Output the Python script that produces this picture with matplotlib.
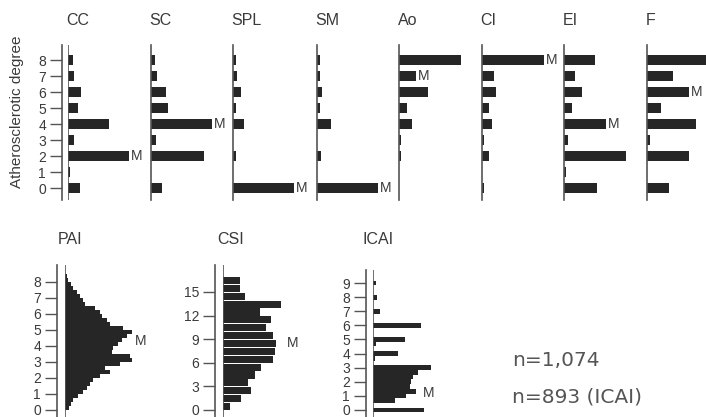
import matplotlib
matplotlib.use("Agg")
import matplotlib.pyplot as plt

plt.rcParams['font.family'] = ['Liberation Sans', 'DejaVu Sans']

W, H = 706, 417

# ---- top row: frequency of atherosclerotic degree (0..8) per region ----
degrees = [0, 1, 2, 3, 4, 5, 6, 7, 8]
regions = ['CC', 'SC', 'SPL', 'SM', 'Ao', 'CI', 'EI', 'F']
cc  = [12, 2, 61, 6, 41, 10, 13, 6, 5]
sc  = [11, 0, 53, 5, 61, 17, 15, 6, 4]
spl = [61, 0, 3, 0, 11, 3, 8, 4, 3]
sm  = [61, 0, 4, 0, 14, 3, 5, 3, 3]
ao  = [0, 0, 2, 2, 13, 8, 29, 17, 62]
ci  = [2, 0, 7, 2, 10, 7, 14, 12, 62]
ei  = [33, 2, 62, 4, 42, 8, 18, 11, 31]
f   = [22, 0, 42, 3, 49, 14, 42, 26, 65]
top_series = [cc, sc, spl, sm, ao, ci, ei, f]
top_medians = [2, 4, 0, 0, 7, 8, 4, 6]

# ---- bottom row: index distributions ----
pai_bins = [0.0, 0.25, 0.5, 0.75, 1.0, 1.25, 1.5, 1.75, 2.0, 2.25, 2.5, 2.75,
            3.0, 3.25, 3.5, 3.75, 4.0, 4.25, 4.5, 4.75, 5.0, 5.25, 5.5, 5.75,
            6.0, 6.25, 6.5, 6.75, 7.0, 7.25, 7.5, 7.75, 8.0, 8.25]
pai_freq = [4, 6, 8, 13, 18, 22, 25, 28, 35, 45, 40, 55,
            67, 65, 47, 48, 53, 57, 62, 67, 58, 45, 42, 37,
            35, 30, 20, 18, 15, 12, 8, 6, 3, 2]
pai_median = 4.3

csi_bins = [0, 1, 2, 3, 4, 5, 6, 7, 8, 9, 10, 11, 12, 13, 14, 15, 16]
csi_freq = [7, 18, 28, 25, 32, 38, 50, 52, 53, 50, 43, 48, 37, 58, 22, 17, 17]
csi_median = 8.5

icai_vals = [0, 0.67, 1.0, 1.33, 1.67, 2.0, 2.33, 2.67, 3.0,
             3.67, 4.0, 4.67, 5.0, 6.0, 7.0, 8.0, 9.0]
icai_freq = [51, 22, 33, 43, 37, 38, 40, 45, 58,
             2, 25, 3, 32, 48, 7, 4, 3]
icai_median = 1.2

BAR = '#262626'
LINE = '#555555'
TXT = '#3a3a3a'


def px_axes(fig, x0, ytop, w, h):
    return fig.add_axes([x0 / W, 1 - (ytop + h) / H, w / W, h / H])


def style(ax, ticks=None, offset_px=0):
    for s in ['top', 'right', 'bottom']:
        ax.spines[s].set_visible(False)
    ax.spines['left'].set_color(LINE)
    ax.spines['left'].set_linewidth(1.2)
    ax.set_xticks([])
    if ticks is None:
        ax.set_yticks([])
    else:
        ax.spines['left'].set_position(('outward', offset_px * 0.72))
        ax.set_yticks(ticks)
        ax.tick_params(axis='y', length=8.5, width=1.0, color=LINE,
                       labelsize=10, labelcolor=TXT, pad=3)
        ax.axvline(0, color=LINE, lw=1.2)
    ax.patch.set_alpha(0)


fig = plt.figure(figsize=(W / 100, H / 100), dpi=100)

# top row
base_x = [68, 151, 233, 317, 399, 482, 564, 647]
for i, (name, vals, med) in enumerate(zip(regions, top_series, top_medians)):
    ax = px_axes(fig, base_x[i], 44.8, 75, 155.2)
    ax.barh(degrees, vals, height=0.6, color=BAR, linewidth=0)
    ax.set_xlim(0, 75)
    ax.set_ylim(-0.75, 8.95)
    if i == 0:
        style(ax, ticks=degrees, offset_px=6)
    else:
        style(ax)
    ax.text(vals[med] + 2, med, 'M', fontsize=10, color=TXT,
            ha='left', va='center', clip_on=False)
    ax.annotate(name, xy=(0, 1), xycoords='axes fraction',
                xytext=(-1, 24 * 0.72), textcoords='offset points',
                ha='left', va='center', fontsize=11.5, color=TXT)

fig.text(17 / W, 1 - 112 / H, 'Atherosclerotic degree', rotation=90,
         ha='center', va='center', fontsize=11, color=TXT)

# PAI
ax = px_axes(fig, 65, 265, 80, 152)
ax.barh(pai_bins, pai_freq, height=0.25, align='edge', color=BAR, linewidth=0)
ax.set_xlim(0, 80)
ax.set_ylim(-0.44, 9.06)
style(ax, ticks=[0, 1, 2, 3, 4, 5, 6, 7, 8], offset_px=8)
ax.text(max(pai_freq) + 3, pai_median, 'M', fontsize=10, color=TXT,
        ha='left', va='center')
ax.annotate('PAI', xy=(0, 1), xycoords='axes fraction',
            xytext=(-7 * 0.72, 25 * 0.72), textcoords='offset points',
            ha='left', va='center', fontsize=11.5, color=TXT)

# CSI
ax = px_axes(fig, 223, 265, 80, 152)
ax.barh(csi_bins, csi_freq, height=0.9, align='edge', color=BAR, linewidth=0)
ax.set_xlim(0, 80)
ax.set_ylim(-0.89, 18.42)
style(ax, ticks=[0, 3, 6, 9, 12, 15], offset_px=8)
ax.text(max(csi_freq) + 6, csi_median, 'M', fontsize=10, color=TXT,
        ha='left', va='center')
ax.annotate('CSI', xy=(0, 1), xycoords='axes fraction',
            xytext=(-6 * 0.72, 25 * 0.72), textcoords='offset points',
            ha='left', va='center', fontsize=11.5, color=TXT)

# ICAI
ax = px_axes(fig, 373, 270, 80, 147)
ax.barh(icai_vals, icai_freq, height=0.33, color=BAR, linewidth=0)
ax.set_xlim(0, 80)
ax.set_ylim(-0.5, 9.93)
style(ax, ticks=[0, 1, 2, 3, 4, 5, 6, 7, 8, 9], offset_px=7)
ax.text(50, icai_median, 'M', fontsize=10, color=TXT, ha='left', va='center')
ax.annotate('ICAI', xy=(0, 1), xycoords='axes fraction',
            xytext=(-10 * 0.72, 30 * 0.72), textcoords='offset points',
            ha='left', va='center', fontsize=11.5, color=TXT)

fig.text(512 / W, 1 - 360 / H, 'n=1,074', fontsize=14.5, color='#555555',
         ha='left', va='center', family='DejaVu Sans')
fig.text(512 / W, 1 - 397 / H, 'n=893 (ICAI)', fontsize=14.5, color='#555555',
         ha='left', va='center', family='DejaVu Sans')

fig.savefig('out.png', dpi=100)
